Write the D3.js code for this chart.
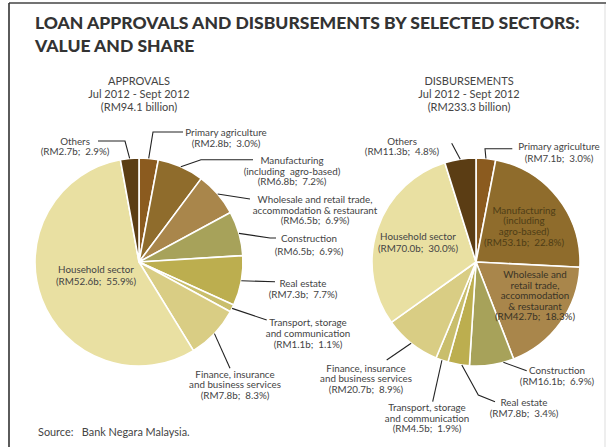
<!DOCTYPE html>
<html><head><meta charset="utf-8">
<script src="https://cdn.jsdelivr.net/npm/d3@7"></script>
<style>
body{margin:0;background:#fff}
text{font-family:Lato,"Noto Sans",sans-serif}
</style>
</head><body>
<svg id="chart" width="606" height="447"></svg>
<script>
// Sector order runs clockwise from 12 o'clock
const sectors = ["Primary agriculture","Manufacturing","Wholesale and retail trade","Construction","Real estate",
  "Transport, storage and communication","Finance, insurance and business services","Household sector","Others"];
const approvalsRM   = [2.8, 6.8, 6.5, 6.5, 7.3, 1.1, 7.8, 52.6, 2.7];
const approvalsPct  = [3.0, 7.2, 6.9, 6.9, 7.7, 1.1, 8.3, 55.9, 2.9];
const disbursementsRM  = [7.1, 53.1, 42.7, 16.1, 7.8, 4.5, 20.7, 70.0, 11.3];
const disbursementsPct = [3.0, 22.8, 18.3, 6.9, 3.4, 1.9, 8.9, 30.0, 4.8];
const approvalsTotal = 94.1, disbursementsTotal = 233.3;
const sectorColors = ["#8b5b1f","#8f6c2c","#a9864b","#a7a25a","#bcae4f","#c9be6c","#d9cd84","#e9e0a2","#5b3d14"];

// Label layout, offsets relative to each pie's centre
const approvalsLayout = [
  {lines:["Primary agriculture"], dx:87, dy:-130, lh:11, leader:[[14,-130],[44,-130]]},
  {lines:["Manufacturing","(including  agro-based)"], dx:153, dy:-101.5, lh:10.5, leader:[[62,-102.3],[114,-102.3]]},
  {lines:["Wholesale and retail trade,","accommodation & restaurant"], dx:176, dy:-62.5, lh:10.5, leader:[[111,-63]]},
  {lines:["Construction"], dx:170, dy:-23.3, lh:12.5, leader:[[131,-24],[137,-24]]},
  {lines:["Real estate"], dx:164, dy:21.3, lh:11.5, leader:[[136,19.7]]},
  {lines:["Transport, storage","and communication"], dx:169, dy:60.7, lh:10.8, leader:[[127.7,58]]},
  {lines:["Finance, insurance","and business services"], dx:96, dy:112, lh:10.5, leader:[[91,106.3]]},
  {lines:["Household sector"], dx:-43, dy:7, lh:12.7, inside:true},
  {lines:["Others"], dx:-64, dy:-121, lh:10.7, leader:[[-14,-121],[-41,-121]]}
];
const disbursementsLayout = [
  {lines:["Primary agriculture"], dx:83, dy:-115.7, lh:12, leader:[[9,-113.3],[36.3,-113.3]]},
  {lines:["Manufacturing","(including","agro-based)"], dx:48, dy:-52, lh:10.7, inside:true, fill:"#4e3d16"},
  {lines:["Wholesale and","retail trade,","accommodation","& restaurant"], dx:59, dy:12.5, lh:10.5, inside:true, fill:"#3a3426"},
  {lines:["Construction"], dx:81, dy:108, lh:11.7, t:0.24, leader:[[50.7,108.7]]},
  {lines:["Real estate"], dx:48, dy:140.3, lh:11, t:0.35, leader:[[2.3,133],[19,139.7]]},
  {lines:["Transport, storage","and communication"], dx:-49, dy:145.5, lh:10.6, leader:[[-43.3,139.7]]},
  {lines:["Finance, insurance","and business services"], dx:-110, dy:106, lh:10.5, leader:[[-89.3,98]]},
  {lines:["Household sector"], dx:-58, dy:-25.3, lh:11.6, inside:true},
  {lines:["Others"], dx:-74, dy:-121, lh:10.7, leader:[[-24.3,-118.7]]}
];

const svg = d3.select("#chart");

// frame
svg.append("line").attr("x1",9).attr("y1",3).attr("x2",606).attr("y2",3).attr("stroke","#444").attr("stroke-width",1.6);
svg.append("line").attr("x1",9).attr("y1",3).attr("x2",9).attr("y2",447).attr("stroke","#333").attr("stroke-width",1.6);
svg.append("line").attr("x1",605).attr("y1",4).attr("x2",605).attr("y2",447).attr("stroke","#ddd").attr("stroke-width",1);

// title, sized so the first line spans the frame's text width
const title = svg.append("text").attr("fill","#333")
  .style("font-family","Lato,'DejaVu Sans',sans-serif").style("font-weight","900").style("font-size","18px");
const t1 = title.append("tspan").attr("x",35).attr("y",29)
  .text("LOAN APPROVALS AND DISBURSEMENTS BY SELECTED SECTORS:");
title.append("tspan").attr("x",35).attr("y",52).text("VALUE AND SHARE");
const natural = title.node().getSubStringLength ? t1.node().getComputedTextLength() : 545;
title.style("font-size", (18 * 545 / natural).toFixed(2) + "px");

function drawPie(cfg){
  const {cx, cy, r, values, pct, layout, heading} = cfg;
  const g = svg.append("g").attr("transform",`translate(${cx},${cy})`);
  const pie = d3.pie().sort(null).value(d=>d.v).startAngle(0).endAngle(2*Math.PI);
  const arcs = pie(values.map((v,i)=>({v, p:pct[i], i})));
  const arc = d3.arc().innerRadius(0).outerRadius(r);

  g.selectAll("path.slice").data(arcs).join("path")
    .attr("class","slice")
    .attr("d",arc)
    .attr("fill",d=>sectorColors[d.data.i])
    .attr("stroke","#fff").attr("stroke-width",1.6).attr("stroke-linejoin","round");

  // leader lines from the rim out to each label
  arcs.forEach(d=>{
    const L = layout[d.data.i];
    if(!L.leader) return;
    const t = L.t==null ? 0.5 : L.t;
    const a = d.startAngle + t*(d.endAngle-d.startAngle);
    const pts = [[r*Math.sin(a), -r*Math.cos(a)], ...L.leader];
    g.append("path").attr("d", d3.line()(pts))
      .attr("fill","none").attr("stroke","#222").attr("stroke-width",1.1);
  });

  // labels: sector name lines plus value/share line
  arcs.forEach(d=>{
    const L = layout[d.data.i];
    const lines = [...L.lines, `(RM${d.data.v.toFixed(1)}b;  ${d.data.p.toFixed(1)}%)`];
    const tx = g.append("text").attr("text-anchor","middle")
      .attr("fill", L.fill || "#444").style("font-size","9.8px")
      .style("white-space","pre");
    lines.forEach((s,k)=>{
      tx.append("tspan").attr("x",L.dx).attr("y",L.dy + k*L.lh + 3.5).text(s);
    });
  });

  // heading above each pie
  const h = svg.append("text").attr("text-anchor","middle").attr("fill","#444").style("font-size","11px");
  heading.forEach((s,k)=>h.append("tspan").attr("x",cfg.hx).attr("y",85 + k*12.8).text(s));
}

drawPie({cx:139, cy:262, r:104, values:approvalsRM, pct:approvalsPct, layout:approvalsLayout,
  hx:139, heading:["APPROVALS","Jul 2012 - Sept 2012",`(RM${approvalsTotal} billion)`]});
drawPie({cx:476, cy:262, r:104, values:disbursementsRM, pct:disbursementsPct, layout:disbursementsLayout,
  hx:469, heading:["DISBURSEMENTS","Jul 2012 - Sept 2012",`(RM${disbursementsTotal} billion)`]});

svg.append("text").attr("x",38).attr("y",436).attr("fill","#444").style("font-size","10.9px")
  .style("white-space","pre").text("Source:   Bank Negara Malaysia.");
</script>
</body></html>
